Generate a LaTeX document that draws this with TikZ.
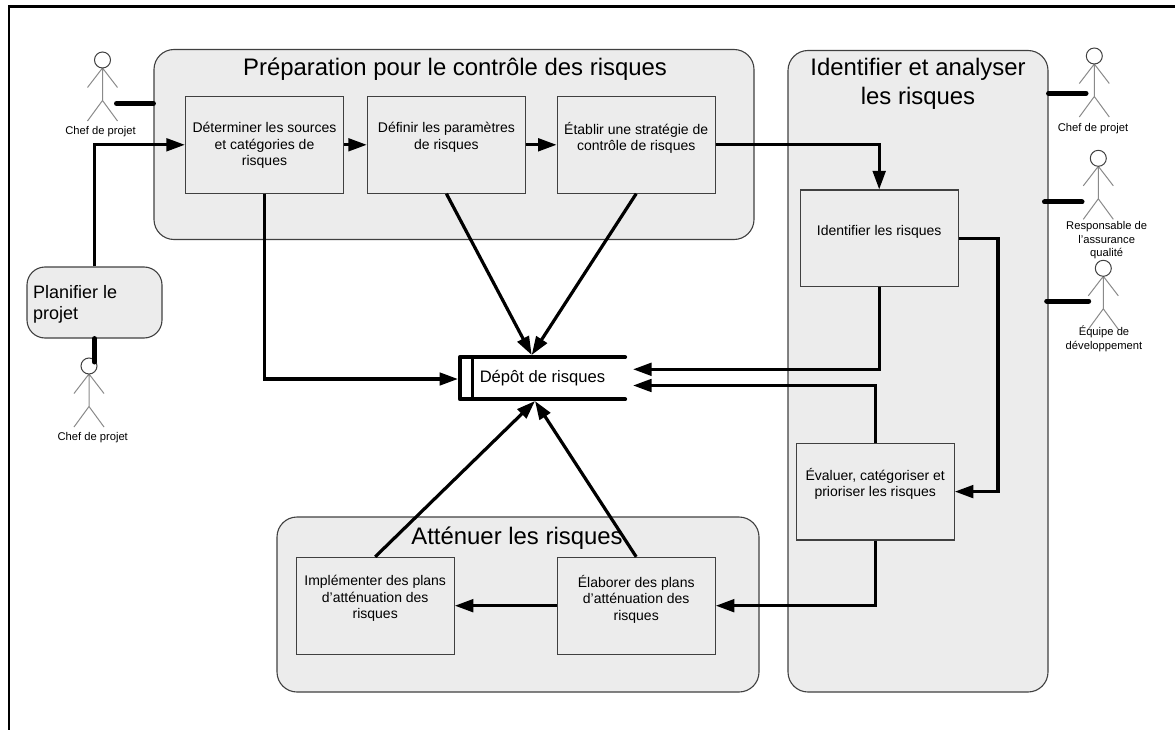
\documentclass[tikz,border=0pt]{standalone}
\usepackage{fontspec}
\setmainfont{Liberation Sans}
\usetikzlibrary{arrows.meta,calc}
\definecolor{grp}{HTML}{ECECEC}
\definecolor{edge}{HTML}{404040}
\definecolor{limb}{HTML}{8A8A8A}
\tikzset{
  grpbox/.style={draw=edge,line width=1.1pt,fill=grp,rounded corners=20pt,inner sep=0pt},
  procbox/.style={draw=edge,line width=1.1pt,fill=grp,minimum width=158pt,minimum height=96.7pt,inner sep=0pt},
  boxtext/.style={anchor=north,align=center,inner sep=0pt,font=\fontsize{14}{16.5}\selectfont},
  grptitle/.style={anchor=north,align=center,inner sep=0pt,font=\fontsize{23.9}{29}\selectfont},
  actorlabel/.style={anchor=north,align=center,inner sep=0pt,font=\fontsize{11.2}{13.8}\selectfont},
  flow/.style={line width=3.2pt,black,-{Triangle[length=18.5pt,width=12.5pt]}},
  flowline/.style={line width=3.2pt,black},
  assoc/.style={line width=5pt,black,line cap=round},
  frameline/.style={line width=2.4pt,black},
  limbline/.style={line width=1pt,limb},
  headcirc/.style={circle,draw=edge,line width=1pt,fill=white,minimum size=16pt,inner sep=0pt},
}
\newcommand{\rectnode}[7]{\node[#1,minimum width=#5pt-#3pt,minimum height=#6pt-#4pt] (#2) at ({(#3+#5)/2},{(#4+#6)/2}) {#7};}
\newcommand{\actor}[3]{%
  \draw[limbline] (#2,#3+8) -- (#2,#3+40.5) (#2-15,#3+27.5) -- (#2,#3+8) -- (#2+15,#3+27.5)
    (#2-15,#3+61) -- (#2,#3+40.5) -- (#2+15,#3+61);
  \node[headcirc] (#1) at (#2,#3) {};}
\begin{document}
\begin{tikzpicture}[x=1pt,y=-1pt]
\useasboundingbox (0,0) rectangle (1175,730);
\coordinate (ftl) at (9,6.7); \coordinate (ftr) at (1175,6.7); \coordinate (fbl) at (9,730);
\draw[frameline] (ftr) -- (ftl) -- (fbl);

% groups
\rectnode{grpbox}{prep}{154}{49.5}{754}{239.5}{}
\rectnode{grpbox}{ident}{788}{50.5}{1048}{692}{}
\rectnode{grpbox}{atten}{277}{517}{759}{692}{}
\rectnode{grpbox,rounded corners=18pt}{plan}{27}{267}{162}{338}{}

% process boxes
\node[procbox] (b1) at (264.5,144.8) {};
\node[procbox] (b2) at (446.4,144.8) {};
\node[procbox] (b3) at (636.2,144.8) {};
\node[procbox] (idr) at (879.2,238.4) {};
\node[procbox] (eval) at (875.2,491.6) {};
\node[procbox] (impl) at (375.2,605.7) {};
\node[procbox] (elab) at (636.2,605.7) {};

% data store
\node[minimum width=165pt,minimum height=41.7pt,inner sep=0pt,font=\fontsize{16.6}{18}\selectfont] (ds) at (542.5,378.2) {Dépôt de risques};
\coordinate (dsit) at (472.3,357.3); \coordinate (dsib) at (472.3,399);
\draw[line width=2.6pt] (dsit) -- (dsib);
\draw[line width=3.8pt,line cap=round,line join=round] (ds.north east) -- (ds.north west) -- (ds.south west) -- (ds.south east);

% free ends of connectors
\coordinate (dsT) at (531.7,355);
\coordinate (dsB) at (535,401);
\coordinate (dsR1) at (633,369.3);
\coordinate (dsR2) at (633,385.5);
\coordinate (dsL) at (458,379);
\coordinate (rail) at (998,400);

% flows
\draw[flow] (plan.north) |- (b1.west);
\draw[flow] (b1.east) -- (b2.west);
\draw[flow] (b2.east) -- (b3.west);
\draw[flow] (b3.east) -| (idr.north);
\draw[flow] (b1.south) |- (dsL);
\draw[flow] (b2.south) -- (dsT);
\draw[flow] (b3.south) -- (dsT);
\draw[flow] (idr.south) |- (dsR1);
\draw[flow] (eval.north) |- (dsR2);
\draw[flowline] (idr.east) -| (rail);
\draw[flow] (rail) |- (eval.east);
\draw[flow] (eval.south) |- (elab.east);
\draw[flow] (elab.west) -- (impl.east);
\draw[flow] (impl.north) -- (dsB);
\draw[flow] (elab.north) -- (dsB);

% titles
\node[grptitle] (tprep) at (455,58) {Préparation pour le contrôle des risques};
\node[grptitle] (tident) at (918,58) {Identifier et analyser\\les risques};
\node[grptitle] (tatten) at (517,527) {Atténuer les risques};
\node[anchor=north west,align=left,inner sep=0pt,font=\fontsize{18}{21}\selectfont] (tplan) at (33,285) {Planifier le\\projet};

% box texts
\node[boxtext] (t1) at (264.5,122) {Déterminer les sources\\et catégories de\\risques};
\node[boxtext] (t2) at (446.4,122) {Définir les paramètres\\de risques};
\node[boxtext] (t3) at (636.2,122) {Établir une stratégie de\\contrôle de risques};
\node[boxtext] (t4) at (879.2,225) {Identifier les risques};
\node[boxtext] (t5) at (875.2,468) {Évaluer, catégoriser et\\prioriser les risques};
\node[boxtext] (t6) at (375.2,575) {Implémenter des plans\\d’atténuation des\\risques};
\node[boxtext] (t7) at (636.2,575) {Élaborer des plans\\d’atténuation des\\risques};

% actors
\actor{a1}{102.5}{60}
\actor{a2}{89}{366}
\actor{a3}{1094.3}{56}
\actor{a4}{1098.3}{158.3}
\actor{a5}{1103.3}{268.3}
\node[actorlabel] (l1) at (100.5,126) {Chef de projet};
\node[actorlabel] (l2) at (92.7,432) {Chef de projet};
\node[actorlabel] (l3) at (1093,123) {Chef de projet};
\node[actorlabel] (l4) at (1106.7,221) {Responsable de\\l’assurance\\qualité};
\node[actorlabel] (l5) at (1104,326) {Équipe de\\développement};

% actor associations
\coordinate (h1) at (116.5,103.5);
\coordinate (h2) at (94.5,362);
\coordinate (h3) at (1086,93.3);
\coordinate (h4a) at (1044.5,202); \coordinate (h4) at (1082,202);
\coordinate (h5a) at (1046.7,301); \coordinate (h5) at (1088.7,301);
\draw[assoc] (h1) -- (prep.west |- h1);
\draw[assoc] (plan.south) -- (h2);
\draw[assoc] (ident.east |- h3) -- (h3);
\draw[assoc] (h4a) -- (h4);
\draw[assoc] (h5a) -- (h5);
\end{tikzpicture}
\end{document}
